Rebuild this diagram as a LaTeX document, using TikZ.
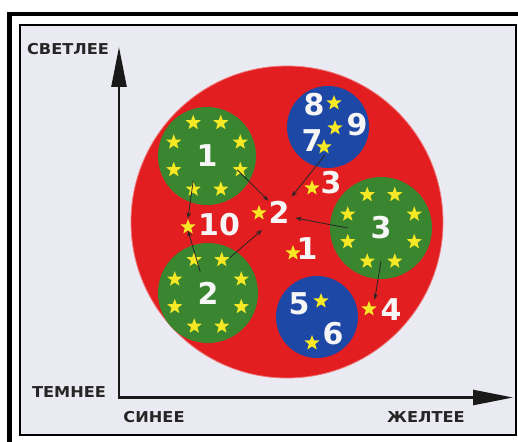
\documentclass[tikz,border=0pt]{standalone}
\usepackage{fontspec}
\usepackage{graphicx}
\usetikzlibrary{shapes.geometric,arrows.meta,calc}
\newfontfamily\djsans{DejaVu Sans}
\definecolor{bgc}{RGB}{234,234,242}
\definecolor{rd}{RGB}{226,30,32}
\definecolor{gr}{RGB}{58,134,48}
\definecolor{bl}{RGB}{30,72,165}
\definecolor{yl}{RGB}{246,232,36}
\definecolor{wt}{RGB}{246,246,246}
\tikzset{
  starmark/.style={star, star points=5, star point ratio=2.4, fill=yl, inner sep=0pt, minimum size=16pt},
  num/.style={font=\djsans\bfseries\fontsize{30}{30}\selectfont, text=wt, inner sep=0pt},
  lbl/.style={font=\djsans\bfseries\fontsize{15}{15}\selectfont, text=black!85, inner sep=0pt},
  link/.style={-{Stealth[length=6pt,width=4.5pt]}, line width=0.8pt, black!85},
  axis/.style={line width=2.6pt, black!90, -{Triangle[length=40pt,width=15pt]}},
  disc/.style={circle, inner sep=0pt, draw=none}
}
\begin{document}
\begin{tikzpicture}[x=1pt,y=-1pt]
\useasboundingbox (0,0) rectangle (518,441);
\fill[white] (0,0) rectangle (518,441);
% frames
\draw[line width=4.6pt] (9.7,445) -- (9.7,14) -- (522,14);
\draw[line width=2pt, fill=bgc] (20,25) rectangle (516,435);
% big red disc
\node[disc, fill=rd, draw=rd!60!white, line width=0.8pt, minimum size=312pt] (big) at (287,222) {};
% green discs
\node[disc, fill=gr, minimum size=98pt] (g1) at (207,156) {};
\node[disc, fill=gr, minimum size=100pt] (g2) at (208,293) {};
\node[disc, fill=gr, minimum size=102pt] (g3) at (381,228) {};
% blue discs
\node[disc, fill=bl, minimum size=82pt] (b1) at (328,127) {};
\node[disc, fill=bl, minimum size=82pt] (b2) at (317,317) {};
% rings of stars
\foreach \g in {g1,g2,g3}{
  \foreach \a [count=\i] in {22.5,67.5,112.5,157.5,202.5,247.5,292.5,337.5}{
    \node[starmark] (\g s\i) at ([shift={(\a:36)}]\g.center) {};
  }
}
% numbers in green discs
\node[num] (g1n) at (g1) {1};
\node[num] (g2n) at (g2) {2};
\node[num] (g3n) at (g3) {3};
% blue disc contents
\node[num] (n8) at (314,105) {8};
\node[starmark] (s8) at (334,103) {};
\node[starmark] (s9) at (335,128) {};
\node[num] (n9) at (357,125) {9};
\node[num] (n7) at (312,141) {7};
\node[starmark] (s7) at (324,147) {};
\node[num] (n5) at (299,304) {5};
\node[starmark] (s5) at (321,301) {};
\node[starmark] (s6) at (312,343) {};
\node[num] (n6) at (333,334) {6};
% red area contents
\node[starmark] (r2s) at (259,213) {};
\node[num] (r2) at (279,212) {2};
\node[starmark] (r3s) at (312,188) {};
\node[num] (r3) at (331,183) {3};
\node[starmark] (r1s) at (293,253) {};
\node[num] (r1) at (307,249) {1};
\node[starmark] (r10s) at (188,227) {};
\node[num] (r10) at (219,225) {10};
\node[starmark] (r4s) at (369,309) {};
\node[num] (r4) at (391,310) {4};
% arrows
\draw[link] ([shift={(-3,0)}]g1s1.center) -- (r2.north west);
\draw[link] (g1s3.north) -- (r10s.north);
\draw[link] ([shift={(6,12)}]g2s6.center) -- (r10s.south);
\draw[link] ([shift={(8,-2)}]g2s7.center) -- ([shift={(3,17)}]r2s.center);
\draw[link] ([shift={(1,8)}]s7.center) -- ([shift={(2,-4)}]r2.north east);
\draw[link] ($(g3s4)!0.5!(g3s5)$) -- ([shift={(6,6)}]r2.east);
\draw[link] ($(g3s2)!0.5!(g3s3)$) -- ($(r4s.north)!0.5!(r4.north west)$);
% axes
\coordinate (org) at (119,397.5);
\coordinate (ytip) at (119,47);
\coordinate (xtip) at (513,397.5);
\draw[axis] ([yshift=1.3pt]org) -- (ytip);
\draw[axis] ([xshift=-1.3pt]org) -- (xtip);
% axis labels
\node[lbl] (up) at (68,49) {\scalebox{1.08}[1]{СВЕТЛЕЕ}};
\node[lbl] (dn) at (69,392) {\scalebox{1.08}[1]{ТЕМНЕЕ}};
\node[lbl] (lf) at (154,417) {\scalebox{1.08}[1]{СИНЕЕ}};
\node[lbl] (rt) at (426,417) {\scalebox{1.08}[1]{ЖЕЛТЕЕ}};
\end{tikzpicture}
\end{document}
